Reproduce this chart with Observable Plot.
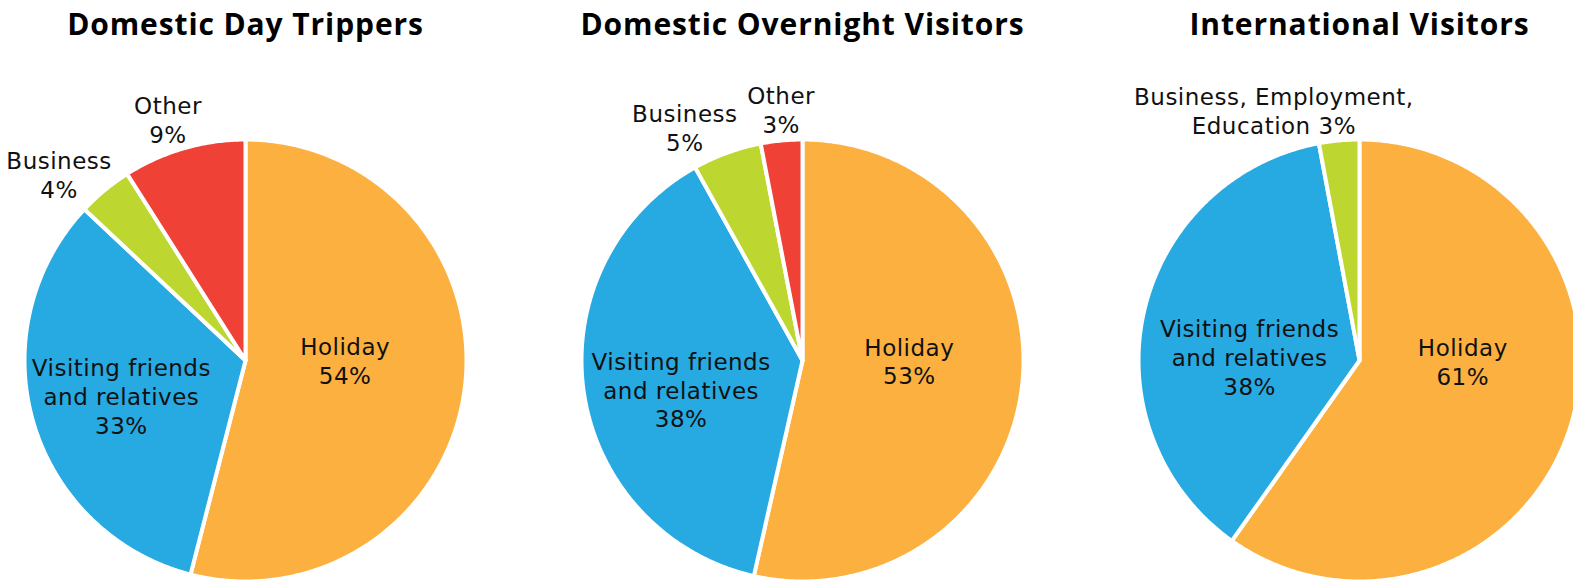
<!DOCTYPE html>
<html>
<head>
<meta charset="utf-8">
<script src="https://cdn.jsdelivr.net/npm/d3@7"></script>
<script src="https://cdn.jsdelivr.net/npm/@observablehq/plot@0.6"></script>
<style>
  html, body { margin: 0; padding: 0; background: #ffffff; }
  #chart svg { display: block; }
</style>
</head>
<body>
<div id="chart"></div>
<script>
// ---------------- DATA ----------------
const pieTitles = ["Domestic Day Trippers", "Domestic Overnight Visitors", "International Visitors"];

const dayCategories = ["Holiday", "Visiting friends and relatives", "Business", "Other"];
const dayValues = [54, 33, 4, 9];
const dayLabels = ["Holiday\n{v}%", "Visiting friends\nand relatives\n{v}%", "Business\n{v}%", "Other\n{v}%"];

const overnightCategories = ["Holiday", "Visiting friends and relatives", "Business", "Other"];
const overnightValues = [53, 38, 5, 3];
const overnightLabels = ["Holiday\n{v}%", "Visiting friends\nand relatives\n{v}%", "Business\n{v}%", "Other\n{v}%"];

const internationalCategories = ["Holiday", "Visiting friends and relatives", "Business, Employment, Education"];
const internationalValues = [61, 38, 3];
const internationalLabels = ["Holiday\n{v}%", "Visiting friends\nand relatives\n{v}%", "Business, Employment,\nEducation {v}%"];

const colorDomain = ["Holiday", "Visiting friends and relatives", "Business", "Other", "Business, Employment, Education"];
const colorRange = ["#FBB040", "#27A9E1", "#BED730", "#EF4136", "#BED730"];

// ---------------- LAYOUT ----------------
const W = 1573, H = 581;
const R = 221;          // pixels per pie radius
const CX0 = 245;        // pixel x of first pie centre
const CY = 360;         // pixel y of pie centres
const GAP = 557;        // pixel distance between pie centres
// label nudges (pixels, right / down) relative to the computed centroid position
const labelNudges = {
  "0:Holiday": [-10, -14], "0:Visiting friends and relatives": [-18, 4],
  "0:Business": [-23, 11], "0:Other": [-6, 5],
  "1:Holiday": [-3, -12], "1:Visiting friends and relatives": [-12, 13],
  "1:Business": [-30, 8], "1:Other": [3, 4],
  "2:Holiday": [-2, -33], "2:Visiting friends and relatives": [-2, 20],
  "2:Business, Employment, Education": [-62, 5]
};

const pies = [
  {title: pieTitles[0], cats: dayCategories, vals: dayValues, labels: dayLabels},
  {title: pieTitles[1], cats: overnightCategories, vals: overnightValues, labels: overnightLabels},
  {title: pieTitles[2], cats: internationalCategories, vals: internationalValues, labels: internationalLabels}
];

const slices = [], labels = [], titles = [];
pies.forEach((p, k) => {
  const cx = k * GAP / R;
  titles.push({x: cx, text: p.title});
  const arcs = d3.pie().sort(null).value(d => d.value)(
    p.cats.map((c, i) => ({cat: c, value: p.vals[i], label: p.labels[i].replace("{v}", p.vals[i])}))
  );
  arcs.forEach(a => {
    const id = k + ":" + a.data.cat;
    const span = a.endAngle - a.startAngle;
    const n = Math.max(2, Math.ceil(span / (Math.PI / 360)));
    slices.push({id, cat: a.data.cat, x: cx, y: 0});
    for (let j = 0; j <= n; j++) {
      const t = a.startAngle + span * j / n;
      slices.push({id, cat: a.data.cat, x: cx + Math.sin(t), y: Math.cos(t)});
    }
    const m = (a.startAngle + a.endAngle) / 2;
    const f = span > 0.15 * 2 * Math.PI ? 0.5 : 1.16;
    const nudge = labelNudges[id] || [0, 0];
    labels.push({
      text: a.data.label,
      x: cx + f * Math.sin(m) + nudge[0] / R,
      y: f * Math.cos(m) - nudge[1] / R
    });
  });
});

const chart = Plot.plot({
  width: W,
  height: H,
  margin: 0,
  x: {domain: [-CX0 / R, (W - CX0) / R], axis: null},
  y: {domain: [-(H - CY) / R, CY / R], axis: null},
  color: {domain: colorDomain, range: colorRange},
  style: {fontFamily: "'DejaVu Sans', sans-serif", background: "#ffffff", overflow: "hidden"},
  marks: [
    Plot.line(slices, {
      x: "x", y: "y", z: "id", fill: "cat",
      stroke: "#ffffff", strokeWidth: 4, strokeLinejoin: "round",
      curve: "linear-closed"
    }),
    Plot.text(labels, {
      x: "x", y: "y", text: "text",
      fontSize: 23, lineHeight: 1.26, fill: "#111111", textAnchor: "middle"
    }),
    Plot.text(titles, {
      x: "x", text: "text", frameAnchor: "top", lineAnchor: "top", dy: 13,
      fontSize: 30, fontWeight: 700, fill: "#000000",
      fontFamily: "'Open Sans', sans-serif"
    })
  ]
});
// letter spacing to approximate the wide geometric face of the original
const textGroups = d3.select(chart).selectAll("g[aria-label='text']").nodes();
if (textGroups[0]) textGroups[0].style.letterSpacing = "0.5px";
if (textGroups[1]) textGroups[1].style.letterSpacing = "0.9px";
document.getElementById("chart").appendChild(chart);
</script>
</body>
</html>
